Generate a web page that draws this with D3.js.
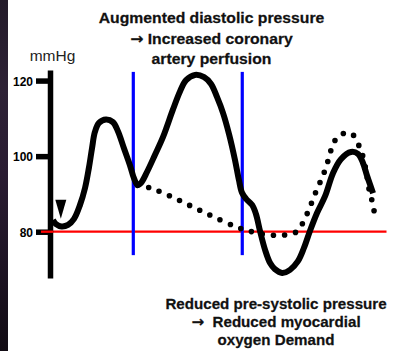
<!DOCTYPE html>
<html>
<head>
<meta charset="utf-8">
<script src="https://cdn.jsdelivr.net/npm/d3@7/dist/d3.min.js"></script>
<style>
  html, body { margin: 0; padding: 0; background: #fff; }
  svg { display: block; }
  text { font-family: "Liberation Sans", Arial, Helvetica, sans-serif; }
</style>
</head>
<body>
<svg id="chart" width="396" height="351"></svg>
<script>
// Arterial pressure trace with intra-aortic balloon augmentation (time in ms, pressure in mmHg)
const augmentedTime = [10, 23, 46, 73, 98, 123, 144, 160, 173, 185, 202, 231, 260, 281, 306, 331, 348, 363,
  377, 402, 435, 469, 510, 540, 565, 602, 640, 669, 694, 719, 744, 769, 785, 798, 815, 840, 856, 873,
  894, 915, 935, 965, 998, 1031, 1056, 1081, 1110, 1144, 1177, 1210, 1252, 1281, 1302, 1319, 1344];
const augmentedPressure = [83.1, 82.0, 81.4, 81.8, 83.4, 87.1, 91.6, 96.9, 102.1, 106.4, 108.8, 109.7, 109.0, 106.6, 102.1, 97.6, 94.1, 92.3,
  92.9, 95.8, 100.3, 105.1, 112.3, 117.2, 120.1, 121.5, 120.9, 119.1, 115.6, 111.4, 105.8, 98.9, 93.7, 90.3, 88.7, 87.1, 84.7, 80.2,
  75.2, 71.7, 70.1, 69.1, 69.9, 72.2, 75.7, 80.2, 84.9, 89.4, 95.5, 99.2, 101.1, 100.6, 98.2, 94.8, 90.2];

// Unassisted pressure from the dicrotic notch onward
const unassistedTime = [363, 415, 506, 598, 685, 777, 827, 873, 923, 973, 1023, 1052, 1073, 1092, 1110, 1131,
  1148, 1163, 1177, 1206, 1252, 1281, 1298, 1315, 1327, 1340, 1350];
const unassistedPressure = [92.3, 91.6, 89.2, 86.4, 83.8, 81.2, 80.2, 79.5, 79.1, 79.1, 79.9, 82.4, 85.3, 88.3, 91.2, 94.2,
  97.1, 100.2, 103.2, 105.6, 106.1, 103.3, 100.7, 96.1, 91.3, 88.1, 84.9];

const balloonEvents = [345, 799];          // inflation, deflation (ms)
const eventSpan = [73.8, 122.3];           // mmHg extent of the timing markers
const baselinePressure = 80;
const markerPoint = { t: 43, v: 83.4 };    // end-diastolic point
const tickValues = [80, 100, 120];
const axisTitle = "mmHg";
// each line: [arrow prefix, text]
const topNote = [["", "Augmented diastolic pressure"], ["\u2192", " Increased coronary"], ["", "artery perfusion"]];
const bottomNote = [["", "Reduced pre-systolic pressure"], ["\u2192", "\u00a0 Reduced myocardial"], ["", "oxygen Demand"]];

const svg = d3.select("#chart");

// Dark textured strip on the left edge
const defs = svg.append("defs");
const grad = defs.append("linearGradient").attr("id", "strip").attr("x1", 0).attr("y1", 0).attr("x2", 0).attr("y2", 1);
[["0%", "#241c2a"], ["25%", "#2e2236"], ["50%", "#2a1c32"], ["75%", "#1e1424"], ["100%", "#120c14"]]
  .forEach(([o, c]) => grad.append("stop").attr("offset", o).attr("stop-color", c));
svg.append("rect").attr("x", 0).attr("y", 0).attr("width", 8).attr("height", 351).attr("fill", "url(#strip)");

const x = d3.scaleLinear().domain([0, 1400]).range([50.5, 386.5]);
const y = d3.scaleLinear().domain([67.75, 122.8]).range([278, 70]);

// Baseline at 80 mmHg
svg.append("line")
  .attr("x1", 41).attr("x2", x(1400))
  .attr("y1", y(baselinePressure)).attr("y2", y(baselinePressure))
  .attr("stroke", "#ff0000").attr("stroke-width", 2.3);

// Axis
const axis = d3.axisLeft(y).tickValues(tickValues).tickSize(14).tickSizeOuter(0).tickPadding(3);
const gAxis = svg.append("g").attr("transform", "translate(50,0)").call(axis);
gAxis.select(".domain").attr("stroke", "#000").attr("stroke-width", 5.5);
gAxis.selectAll(".tick line").attr("stroke", "#000").attr("stroke-width", 5.5);
gAxis.selectAll(".tick text")
  .attr("fill", "#000").attr("font-size", 12).attr("font-weight", "bold")
  .attr("font-family", "'Liberation Sans', Arial, sans-serif")
  .attr("dy", "0.4em");
// re-draw baseline over the 80 tick
svg.append("line")
  .attr("x1", 41).attr("x2", 53)
  .attr("y1", y(baselinePressure)).attr("y2", y(baselinePressure))
  .attr("stroke", "#ff0000").attr("stroke-width", 2.3);

svg.append("text")
  .attr("x", 52.5).attr("y", 61)
  .attr("text-anchor", "middle")
  .attr("font-size", 15.5).attr("fill", "#222")
  .text(axisTitle);

// Balloon timing markers
svg.selectAll("line.event").data(balloonEvents).join("line")
  .attr("class", "event")
  .attr("x1", d => x(d)).attr("x2", d => x(d))
  .attr("y1", y(eventSpan[1])).attr("y2", y(eventSpan[0]))
  .attr("stroke", "#0000ff").attr("stroke-width", 3.2);

const line = d3.line().x(d => x(d[0])).y(d => y(d[1])).curve(d3.curveCatmullRom.alpha(0.5));

// Unassisted (dotted)
svg.append("path")
  .datum(d3.zip(unassistedTime, unassistedPressure))
  .attr("d", line)
  .attr("fill", "none").attr("stroke", "#000")
  .attr("stroke-width", 5.6).attr("stroke-linecap", "round")
  .attr("stroke-dasharray", "0 11.2");

// Augmented (solid)
svg.append("path")
  .datum(d3.zip(augmentedTime, augmentedPressure))
  .attr("d", line)
  .attr("fill", "none").attr("stroke", "#000")
  .attr("stroke-width", 6).attr("stroke-linejoin", "round").attr("stroke-linecap", "butt");

// End-diastolic pointer
svg.append("path")
  .attr("transform", `translate(${x(markerPoint.t)},${y(markerPoint.v)})`)
  .attr("d", "M0,0 L-5.5,-19 L5.5,-19 Z")
  .attr("fill", "#000");

// Annotations
function note(lines, cx, baselines, sx) {
  const g = svg.append("g").attr("transform", `translate(${cx},0) scale(${sx},1)`);
  const t = g.selectAll("text").data(lines).join("text")
    .attr("x", 0).attr("y", (d, i) => baselines[i])
    .attr("text-anchor", "middle")
    .attr("font-size", 15).attr("font-weight", "bold").attr("fill", "#111")
    .attr("stroke", "#111").attr("stroke-width", 0.25);
  t.filter(d => d[0]).append("tspan")
    .attr("font-family", "'DejaVu Sans', sans-serif")
    .attr("font-size", 15)
    .text(d => d[0]);
  t.append("tspan").text(d => d[1]);
}
note(topNote, 211.5, [23.3, 43.8, 64], 1.05);
note(bottomNote, 276, [309.5, 327.5, 345.5], 1.01);
</script>
</body>
</html>
